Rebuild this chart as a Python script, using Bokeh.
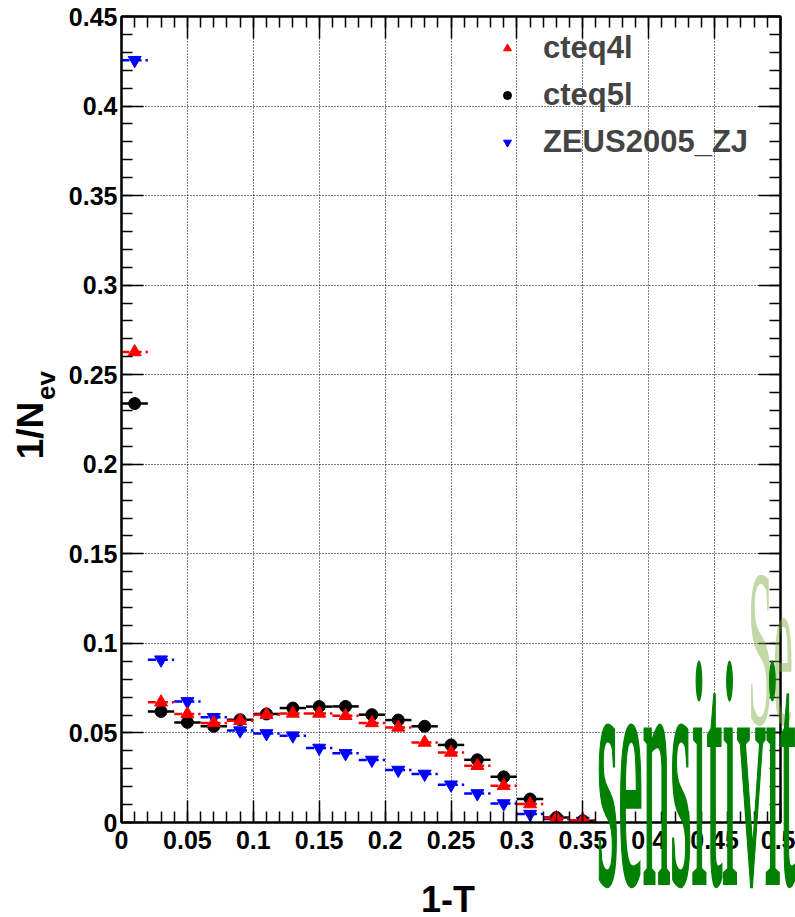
from bokeh.plotting import figure
from bokeh.models import (Legend, LegendItem, LinearAxis, FixedTicker, Div,
                          Range1d, ColumnDataSource, CustomJSTickFormatter)
from bokeh.layouts import column
from bokeh.embed import file_html
from bokeh.resources import INLINE

# ---------------- data ----------------
bin_centers = [0.01, 0.03, 0.05, 0.07, 0.09, 0.11, 0.13, 0.15, 0.17,
               0.19, 0.21, 0.23, 0.25, 0.27, 0.29, 0.31, 0.33, 0.35]
bin_half_width = 0.01

cteq4l = [0.2627, 0.0671, 0.0606, 0.0556, 0.0568, 0.0602, 0.0609, 0.0609, 0.0596,
          0.0556, 0.0531, 0.0447, 0.0391, 0.0317, 0.0205, 0.0103, 0.0025, 0.0013]
cteq5l = [0.2339, 0.0620, 0.0559, 0.0537, 0.0574, 0.0606, 0.0639, 0.0647, 0.0648,
          0.0602, 0.0572, 0.0537, 0.0433, 0.0350, 0.0255, 0.0131, 0.0028, 0.0010]
zeus2005_zj = [0.4256, 0.0909, 0.0676, 0.0587, 0.0513, 0.0497, 0.0485, 0.0416, 0.0386,
               0.0349, 0.0293, 0.0271, 0.0211, 0.0162, 0.0106, 0.0047, 0.0019, 0.0008]

series_names = ["cteq4l", "cteq5l", "ZEUS2005_ZJ"]

x_ticks = [0.0, 0.05, 0.1, 0.15, 0.2, 0.25, 0.3, 0.35, 0.4, 0.45, 0.5]
x_tick_labels = ["0", "0.05", "0.1", "0.15", "0.2", "0.25", "0.3", "0.35", "0.4", "0.45", "0.5"]
y_ticks = [0.0, 0.05, 0.1, 0.15, 0.2, 0.25, 0.3, 0.35, 0.4, 0.45]
y_tick_labels = ["0", "0.05", "0.1", "0.15", "0.2", "0.25", "0.3", "0.35", "0.4", "0.45"]
x_minor = [round(i * 0.01, 2) for i in range(0, 51)]
y_minor = [round(i * 0.01, 2) for i in range(0, 46)]

x_title = "1-T"
y_title_main = "1/N"
y_title_sub = "ev"
overlay_words = ["Se", "sensitivity"]

# ---------------- figure ----------------
FONT = "Liberation Sans"

p = figure(width=795, height=917, x_range=Range1d(0, 0.5), y_range=Range1d(0, 0.45),
           output_backend="svg", toolbar_location=None,
           min_border_left=121, min_border_right=15, min_border_top=16, min_border_bottom=95,
           background_fill_color="white", border_fill_color="white")
p.outline_line_color = "black"
p.outline_line_width = 2

def style_axis(ax, ticks, minors, labels=None, show_labels=True):
    ax.ticker = FixedTicker(ticks=ticks, minor_ticks=minors)
    ax.axis_line_color = "black"
    ax.axis_line_width = 2
    ax.major_tick_in = 22
    ax.major_tick_out = 0
    ax.minor_tick_in = 11
    ax.minor_tick_out = 0
    ax.major_tick_line_width = 1.5
    ax.minor_tick_line_width = 1.5
    ax.major_tick_line_color = "black"
    ax.minor_tick_line_color = "black"
    if show_labels:
        ax.major_label_overrides = {t: l for t, l in zip(ticks, labels)}
        ax.major_label_text_font = FONT
        ax.major_label_text_font_style = "bold"
        ax.major_label_text_font_size = "25px"
        ax.major_label_text_color = "black"
    else:
        ax.formatter = CustomJSTickFormatter(code="return ''")
        ax.major_label_standoff = 0

style_axis(p.xaxis[0], x_ticks, x_minor, x_tick_labels)
p.xaxis[0].major_label_standoff = 8
style_axis(p.yaxis[0], y_ticks, y_minor, y_tick_labels)
p.yaxis[0].major_label_standoff = 4

top_ax = LinearAxis()
style_axis(top_ax, x_ticks, x_minor, show_labels=False)
p.add_layout(top_ax, "above")
right_ax = LinearAxis()
style_axis(right_ax, y_ticks, y_minor, show_labels=False)
p.add_layout(right_ax, "right")

p.xgrid.ticker = FixedTicker(ticks=x_ticks)
p.ygrid.ticker = FixedTicker(ticks=y_ticks)
for g in (p.xgrid[0], p.ygrid[0]):
    g.grid_line_color = "black"
    g.grid_line_dash = "1 2"
    g.grid_line_width = 1

# ---------------- series ----------------
colors = {"cteq4l": "red", "cteq5l": "black", "ZEUS2005_ZJ": "blue"}
markers = {"cteq4l": "triangle", "cteq5l": "circle", "ZEUS2005_ZJ": "inverted_triangle"}
values = {"cteq4l": cteq4l, "cteq5l": cteq5l, "ZEUS2005_ZJ": zeus2005_zj}
dashes = {"cteq4l": "8 4", "cteq5l": "solid", "ZEUS2005_ZJ": "8 4"}
sizes = {"cteq4l": 13, "cteq5l": 12, "ZEUS2005_ZJ": 13}

renderers = {}
for name in ["ZEUS2005_ZJ", "cteq5l", "cteq4l"]:
    src = ColumnDataSource(dict(
        x=bin_centers,
        y=values[name],
        x0=[c - bin_half_width for c in bin_centers],
        x1=[c + bin_half_width for c in bin_centers],
    ))
    p.segment(x0="x0", x1="x1", y0="y", y1="y", source=src,
              line_color=colors[name], line_width=2.5, line_dash=dashes[name])
    renderers[name] = p.scatter(x="x", y="y", source=src, marker=markers[name],
                                size=sizes[name], fill_color=colors[name],
                                line_color=colors[name])

legend = Legend(items=[LegendItem(label=n, renderers=[renderers[n]]) for n in series_names],
                location=(376, 662))
legend.border_line_alpha = 0
legend.background_fill_alpha = 0
legend.label_text_font = FONT
legend.label_text_font_style = "bold"
legend.label_text_font_size = "31px"
legend.glyph_width = 20
legend.glyph_height = 36
legend.label_height = 36
legend.spacing = 11
legend.padding = 0
legend.margin = 0
legend.label_standoff = 26
p.add_layout(legend)

# ---------------- axis titles and green overlay words (HTML layer) ----------------
SANS = "font-family:'Liberation Sans';font-weight:bold;color:black;white-space:nowrap;"
SERIF = "font-family:'Liberation Serif';white-space:nowrap;"
overlay_html = (
    '<div style="position:absolute;left:0;top:0;width:795px;height:917px;overflow:hidden;'
    'pointer-events:none;">'
    # x-axis title
    f'<div style="position:absolute;left:448px;top:885px;font-size:36px;line-height:30px;{SANS}'
    f'transform:translateX(-50%);">{x_title}</div>'
    # y-axis title, main part (rotated to read bottom-to-top)
    f'<div style="position:absolute;left:43px;top:428px;font-size:37px;line-height:37px;{SANS}'
    f'transform-origin:0px 31.3px;transform:rotate(-90deg);">{y_title_main}</div>'
    # y-axis title, subscript
    f'<div style="position:absolute;left:55px;top:378px;font-size:26px;line-height:26px;{SANS}'
    f'transform-origin:0px 22px;transform:rotate(-90deg);">{y_title_sub}</div>'
    # light green word
    f'<div style="position:absolute;left:748px;top:690px;font-size:45px;line-height:45px;{SERIF}'
    'color:rgba(120,170,60,0.45);transform-origin:0px 37.7px;transform:scaleY(5);">'
    f'{overlay_words[0]}</div>'
    # dark green word
    f'<div style="position:absolute;left:597px;top:836px;font-size:55px;line-height:55px;{SERIF}'
    'color:#008000;-webkit-text-stroke:1px #008000;transform-origin:0px 46px;transform:scaleY(6);">'
    f'{overlay_words[1]}</div>'
    '</div>'
)
overlay = Div(text=overlay_html, width=795, height=917, margin=0,
              styles={"position": "absolute", "left": "0px", "top": "0px",
                      "pointer-events": "none"})

layout = column(p, overlay)

open("out.html", "w").write(file_html(layout, INLINE))
